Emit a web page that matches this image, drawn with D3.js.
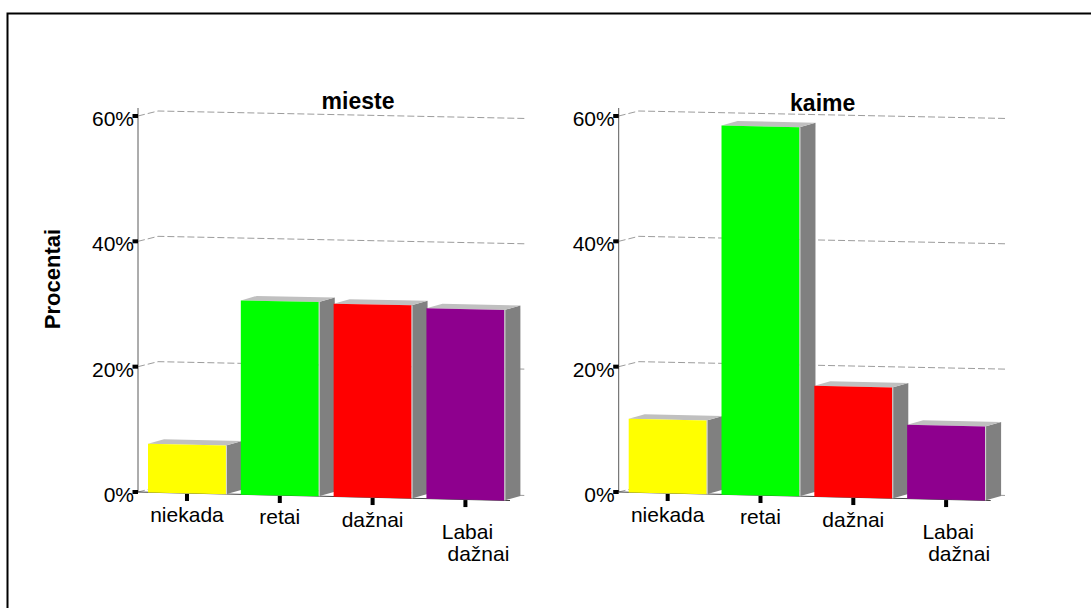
<!DOCTYPE html>
<html>
<head>
<meta charset="utf-8">
<script src="https://cdn.jsdelivr.net/npm/d3@7"></script>
<style>
  html, body { margin: 0; padding: 0; background: #fff; }
  svg { display: block; font-family: "Liberation Sans", Arial, sans-serif; }
</style>
</head>
<body>
<svg id="chart" width="1091" height="608"></svg>
<script>
// Survey answers: how often, split by place of residence (percent)
const categories = ["niekada", "retai", "dažnai", "Labai dažnai"];
const panelTitles = ["mieste", "kaime"];
const miesteValues = [7.8, 31.0, 30.8, 30.4];
const kaimeValues = [11.8, 58.9, 17.7, 11.8];
const tickValues = [0, 20, 40, 60];
const tickLabels = ["0%", "20%", "40%", "60%"];
const barColors = ["#ffff00", "#00ff00", "#ff0000", "#8e008e"];

const seriesByPanel = [miesteValues, kaimeValues];

const svg = d3.select("#chart");

// outer frame (extends past the right and bottom edges of the page)
svg.append("rect")
  .attr("x", 7.5).attr("y", 13.5)
  .attr("width", 1200).attr("height", 640)
  .attr("fill", "none").attr("stroke", "#000").attr("stroke-width", 2);

// y-axis title
svg.append("text")
  .attr("transform", "translate(60,279) rotate(-90)")
  .attr("text-anchor", "middle")
  .attr("font-size", 22).attr("font-weight", "bold")
  .text("Procentai");

// pseudo-3D layout
const panelAxisX = [138, 618.7];
const titleOffset = [220, 204];
const titleBaseline = [108.5, 110.5];
const floorY = 492;          // 0% at the axis
const floorDrop = 8 / 366;   // front floor edge falls to the right
const depth = { dx: 16, dy: -4.5 };

panelTitles.forEach((title, p) => {
  const ax = panelAxisX[p];
  const values = seriesByPanel[p];
  const g = svg.append("g");

  const y = d3.scaleLinear().domain([0, 60]).range([floorY, floorY - 376]);
  const h = v => floorY - y(v);
  const x = d3.scaleBand().domain(categories)
    .range([ax + 10, ax + 366.4]).paddingInner(0.16).paddingOuter(0);
  const base = px => floorY + 0.4 + (px - ax) * floorDrop;

  // dashed gridlines running up to the back wall
  g.selectAll("path.grid").data(tickValues).enter().append("path")
    .attr("class", "grid")
    .attr("d", t => {
      const ty = y(t);
      const endDrop = t === 0 ? 3.5 : 2.5;
      return `M${ax},${ty} L${ax + 20},${ty - 5} L${ax + 389},${ty + endDrop}`;
    })
    .attr("fill", "none").attr("stroke", "#9c9c9c").attr("stroke-width", 1)
    .attr("stroke-dasharray", "7,3");

  // value axis line
  g.append("line")
    .attr("x1", ax).attr("x2", ax)
    .attr("y1", y(60) - 8).attr("y2", y(0))
    .attr("stroke", "#5a5a5a").attr("stroke-width", 1);

  // front floor edge
  g.append("line")
    .attr("x1", ax).attr("y1", floorY)
    .attr("x2", ax + 372).attr("y2", base(ax + 372))
    .attr("stroke", "#404040").attr("stroke-width", 1);

  // value ticks and labels
  g.selectAll("rect.ytick").data(tickValues).enter().append("rect")
    .attr("class", "ytick")
    .attr("x", ax - 5.5).attr("y", t => y(t) - 2)
    .attr("width", 5.5).attr("height", 4).attr("fill", "#000");
  g.selectAll("text.ylab").data(tickValues).enter().append("text")
    .attr("class", "ylab")
    .attr("x", ax - 4).attr("y", t => y(t) + 10)
    .attr("text-anchor", "end").attr("font-size", 21)
    .text((t, i) => tickLabels[i]);

  // bars: side, top, front
  categories.forEach((c, i) => {
    const x0 = x(c), x1 = x(c) + x.bandwidth();
    const b0 = base(x0), b1 = base(x1);
    const hv = h(values[i]);
    const t0 = b0 - hv, t1 = b1 - hv;
    const { dx, dy } = depth;

    g.append("path")
      .attr("d", `M${x1},${t1} L${x1 + dx},${t1 + dy} L${x1 + dx},${b1 + dy} L${x1},${b1} Z`)
      .attr("fill", "#808080");
    g.append("path")
      .attr("d", `M${x0},${t0} L${x0 + dx},${t0 + dy} L${x1 + dx},${t1 + dy} L${x1},${t1} Z`)
      .attr("fill", "#c0c0c0");
    g.append("path")
      .attr("d", `M${x0},${b0} L${x0},${t0} L${x1},${t1} L${x1},${b1} Z`)
      .attr("fill", barColors[i]);
    g.append("line")
      .attr("x1", x1 + 0.5).attr("x2", x1 + 0.5).attr("y1", t1).attr("y2", b1)
      .attr("stroke", "#d8d8d8").attr("stroke-width", 1);
  });

  // category ticks and labels
  categories.forEach((c, i) => {
    const cx = x(c) + x.bandwidth() / 2;
    const by = base(cx);
    g.append("rect")
      .attr("x", cx - 2).attr("y", by + 0.5)
      .attr("width", 4).attr("height", 7).attr("fill", "#000");
    const lines = c.split(" ");
    const first = by + 29 + (lines.length > 1 ? 10 : 0);
    lines.forEach((ln, k) => {
      g.append("text")
        .attr("x", cx + (lines.length > 1 ? (k === 0 ? 2 : 13) : 0))
        .attr("y", first + k * 22)
        .attr("text-anchor", "middle").attr("font-size", 21)
        .text(ln);
    });
  });

  // panel title
  g.append("text")
    .attr("x", ax + titleOffset[p]).attr("y", titleBaseline[p])
    .attr("text-anchor", "middle")
    .attr("font-size", 23).attr("font-weight", "bold")
    .text(title);
});
</script>
</body>
</html>
